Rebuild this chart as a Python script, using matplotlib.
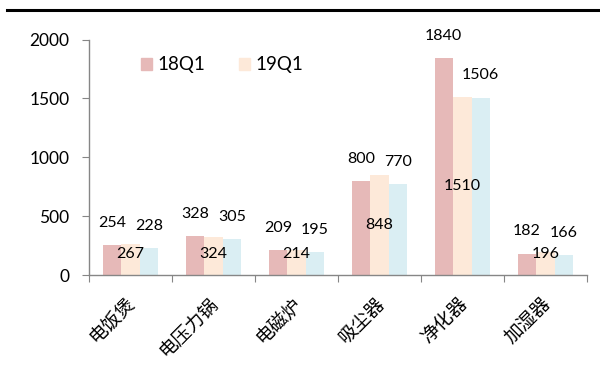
import numpy as np
import matplotlib.pyplot as plt
import matplotlib.transforms as mtransforms
from matplotlib.lines import Line2D
from matplotlib.patches import Patch

plt.rcParams['font.family'] = ['Lato', 'Noto Sans CJK SC', 'DejaVu Sans']

# sales by product type
categories = ['电饭煲', '电压力锅', '电磁炉', '吸尘器', '净化器', '加湿器']
q1_18 = [254, 328, 209, 800, 1840, 182]
q1_19 = [267, 324, 214, 848, 1510, 196]
third = [228, 305, 195, 770, 1506, 166]

c_18 = '#E6B9B8'
c_19 = '#FDE9D9'
c_3 = '#DAEEF3'

fig = plt.figure(figsize=(6, 3.85), dpi=100)
ax = fig.add_axes([0.148, 0.2857, 0.83, 0.6117])

x = np.arange(len(categories))
w = 0.223
ax.bar(x - w, q1_18, w, color=c_18, label='18Q1')
ax.bar(x, q1_19, w, color=c_19, label='19Q1')
ax.bar(x + w, third, w, color=c_3)

fs = 11.5
for i in range(len(categories)):
    ax.annotate(str(q1_18[i]), (x[i] - w, q1_18[i]), xytext=(0, 16),
                textcoords='offset points', ha='center', va='center', fontsize=fs)
    ax.text(x[i], max(q1_19[i] / 2, 180), str(q1_19[i]),
            ha='center', va='center', fontsize=fs)
    ax.annotate(str(third[i]), (x[i] + w, third[i]), xytext=(0, 16),
                textcoords='offset points', ha='center', va='center', fontsize=fs)

ax.set_xlim(-0.5, len(categories) - 0.5)
ax.set_ylim(0, 2000)
ax.set_yticks([0, 500, 1000, 1500, 2000])
ax.tick_params(axis='y', labelsize=12.5, length=5, color='#868686', pad=9)

# boundary ticks on the x axis, labels sit at the category centres
ax.set_xticks(np.arange(len(categories) + 1) - 0.5)
ax.set_xticklabels([])
ax.tick_params(axis='x', length=5, color='#868686')
ax.set_xticks(x, minor=True)
labels = ax.set_xticklabels(categories, minor=True, rotation=45, ha='right',
                            rotation_mode='anchor', fontsize=13.5,
                            family=['Noto Sans CJK SC'], fontweight='light')
ax.tick_params(axis='x', which='minor', length=0, pad=13)
shift = mtransforms.ScaledTranslation(-5 / 100, 0, fig.dpi_scale_trans)
for lab in labels:
    lab.set_transform(lab.get_transform() + shift)

for s in ['top', 'right']:
    ax.spines[s].set_visible(False)
for s in ['left', 'bottom']:
    ax.spines[s].set_color('#868686')
    ax.spines[s].set_linewidth(1)

handles = [Patch(color=c_18), Patch(color=c_19)]
ax.legend(handles, ['18Q1', '19Q1'], loc='upper left',
          bbox_to_anchor=(0.07, 1.0), ncol=2, frameon=False,
          fontsize=13.5, handlelength=0.6, handleheight=0.6,
          handletextpad=0.3, columnspacing=1.8)

fig.add_artist(Line2D([0.012, 1.0], [0.975, 0.975], color='black', lw=2.2))

fig.savefig('out.png', dpi=100)
